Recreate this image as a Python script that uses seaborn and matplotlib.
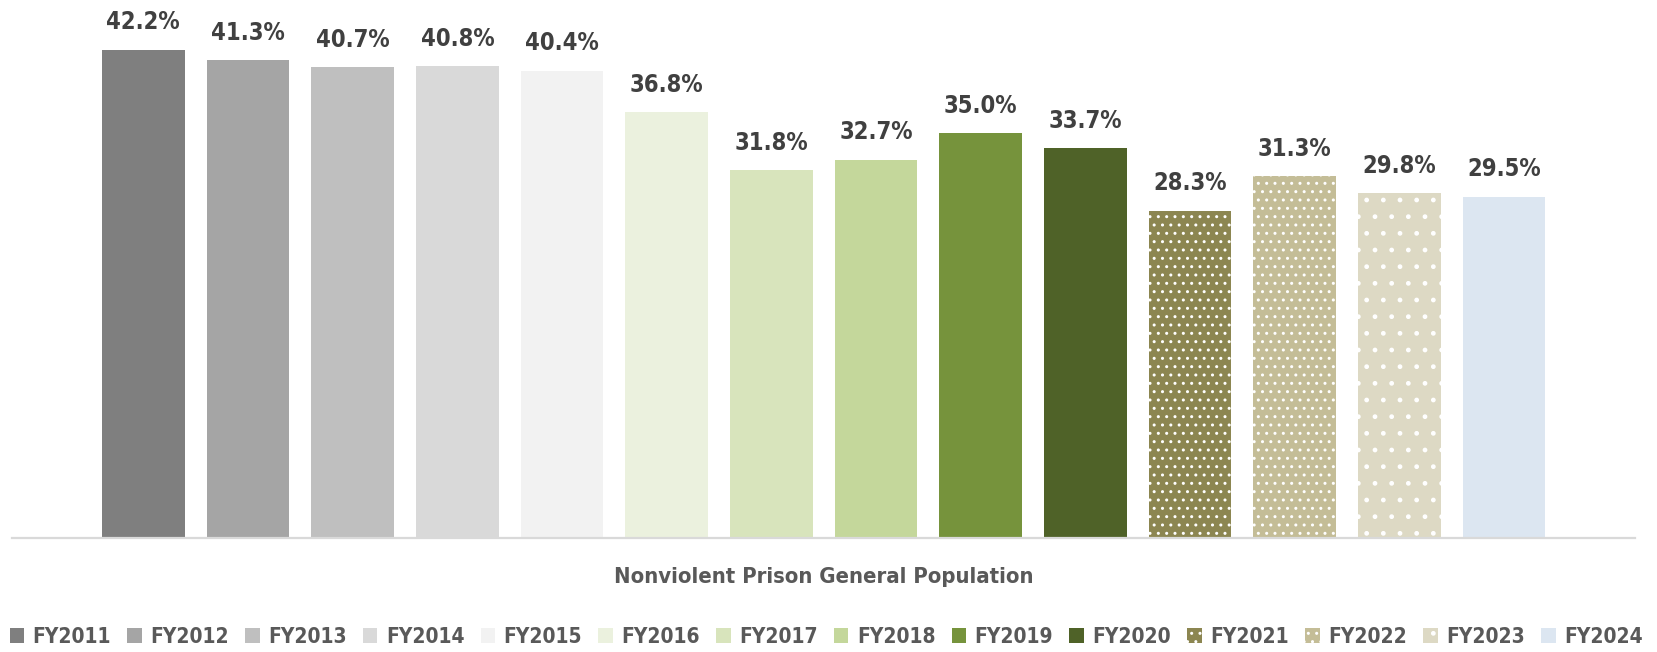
import matplotlib
matplotlib.use("Agg")
import matplotlib.pyplot as plt
import seaborn as sns
from matplotlib import font_manager

years = ["FY2011", "FY2012", "FY2013", "FY2014", "FY2015", "FY2016", "FY2017",
         "FY2018", "FY2019", "FY2020", "FY2021", "FY2022", "FY2023", "FY2024"]
rates = [42.2, 41.3, 40.7, 40.8, 40.4, 36.8, 31.8, 32.7, 35.0, 33.7, 28.3, 31.3, 29.8, 29.5]
colors = ["#7f7f7f", "#a5a5a5", "#bfbfbf", "#d9d9d9", "#f2f2f2", "#ebf1de", "#d8e4bc",
          "#c4d79b", "#76933c", "#4f6228", "#8c8651", "#c4bd97", "#ddd9c4", "#dce6f1"]
hatches = {"FY2021": "..", "FY2022": "..", "FY2023": "."}
group_label = "Nonviolent Prison General Population"

sns.set_style("white")

# pick a narrow font if there is one, otherwise Roboto
narrow = None
for f in font_manager.fontManager.ttflist:
    if ("Narrow" in f.name or "Condensed" in f.name or
            str(f.stretch) in ("condensed", "semi-condensed")):
        narrow = f
        break
if narrow is not None:
    plt.rcParams["font.family"] = [narrow.name, "DejaVu Sans"]
    plt.rcParams["font.stretch"] = narrow.stretch
    lab_fs, leg_fs, ax_fs = 17, 15, 15.8
else:
    plt.rcParams["font.family"] = ["Roboto", "DejaVu Sans"]
    lab_fs, leg_fs, ax_fs = 17, 15.5, 16

W, H = 1658, 652
fig = plt.figure(figsize=(W / 100, H / 100), dpi=100)
ax = fig.add_axes([12 / W, (H - 538) / H, (1635 - 12) / W, (538 - 5) / H])

sns.barplot(x=years, y=rates, hue=years, palette=colors, width=0.79,
            legend=False, saturation=1, ax=ax)

for patch, yr in zip(ax.patches, years):
    patch.set_linewidth(0)
    if yr in hatches:
        patch.set_edgecolor("white")
        patch.set_hatch(hatches[yr])

for cont in ax.containers:
    ax.bar_label(cont, fmt="%.1f%%", padding=11, fontsize=lab_fs,
                 fontweight="bold", color="#404040")

ax.set_xlim(-1.254, 14.25)
ax.set_ylim(0, 46.07)
ax.set_yticks([])
ax.set_xticks([])
ax.set_ylabel("")
ax.set_xlabel(group_label, fontsize=ax_fs, fontweight="bold", color="#595959",
              labelpad=21)
for s in ["top", "left", "right"]:
    ax.spines[s].set_visible(False)
ax.spines["bottom"].set_color("#d9d9d9")
ax.spines["bottom"].set_linewidth(1.6)


def make_legend(cs):
    lg = ax.legend(handles=list(ax.patches), labels=years, ncol=len(years),
                   loc="center", bbox_to_anchor=(826 / W, (H - 637) / H),
                   bbox_transform=fig.transFigure, frameon=False,
                   fontsize=leg_fs, handlelength=0.7, handleheight=0.7,
                   handletextpad=0.4, columnspacing=cs, borderaxespad=0,
                   borderpad=0)
    for t in lg.get_texts():
        t.set_color("#595959")
        t.set_fontweight("bold")
    return lg


# widen the column spacing so the legend spans the full width like the original
cs = 1.0
leg = make_legend(cs)
fig.canvas.draw()
width = leg.get_window_extent().width
fs_px = leg_fs * 100 / 72
cs += (1633 - width) / 13 / fs_px
leg.remove()
leg = make_legend(cs)

fig.savefig("out.png", dpi=100)
